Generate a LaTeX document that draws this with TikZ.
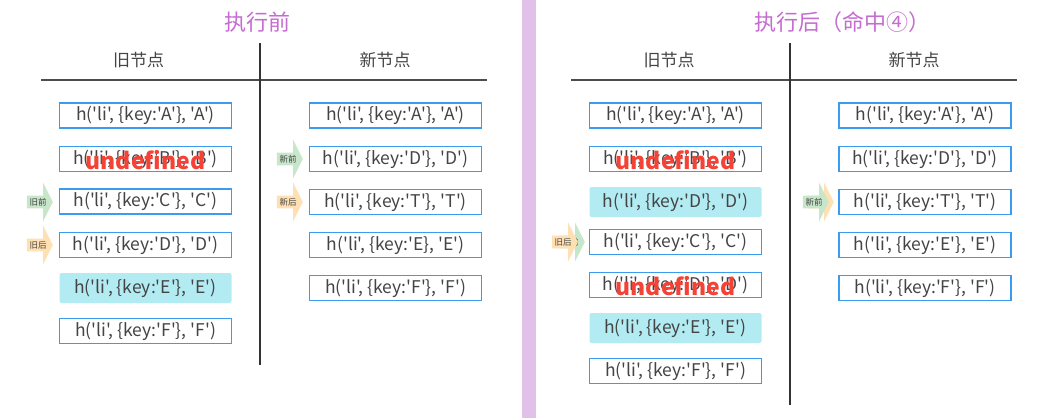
\documentclass[tikz,border=0pt]{standalone}
\usepackage{fontspec}
\newfontfamily\cjk{Noto Sans CJK SC}
\usetikzlibrary{shapes.arrows}

\definecolor{boxblue}{HTML}{3A9BEF}
\definecolor{hitcyan}{HTML}{B2EBF2}
\definecolor{titlepurple}{HTML}{C46CD0}
\definecolor{barpurple}{HTML}{E1C0E9}
\definecolor{undefred}{HTML}{F44336}
\definecolor{ptrgreen}{HTML}{C8E6C9}
\definecolor{ptrorange}{HTML}{FFE0B2}
\definecolor{txtgray}{HTML}{444444}

\tikzset{
  vnode/.style={draw=boxblue, line width=1.4pt, minimum width=172pt, minimum height=25pt,
    inner sep=0pt, text=txtgray, font=\cjk\fontsize{17.5}{17.5}\selectfont},
  hitnode/.style={fill=hitcyan, rounded corners=2pt, minimum width=172pt, minimum height=30pt,
    inner sep=0pt, text=txtgray, font=\cjk\fontsize{17.5}{17.5}\selectfont},
  undef/.style={text=undefred, inner sep=0pt, font=\cjk\bfseries\fontsize{23}{23}\selectfont},
  head/.style={text=txtgray, font=\cjk\fontsize{17}{17}\selectfont},
  title/.style={text=titlepurple, font=\cjk\fontsize{22}{22}\selectfont},
  ptr/.style={single arrow, single arrow head extend=13pt, single arrow tip angle=127,
    minimum height=26pt, inner sep=2.2pt, anchor=tip, text=txtgray,
    font=\cjk\fontsize{8.5}{8.5}\selectfont},
}

\begin{document}
\begin{tikzpicture}[x=1pt,y=-1pt]
  \useasboundingbox (0,0) rectangle (1057,418);

  % separator bar
  \fill[barpurple] (522,0) rectangle (536,418);

  % ---------- before ----------
  \node[title] (titleL) at (257.5,22) {执行前};
  \node[head] (oldL) at (138.5,60) {旧节点};
  \node[head] (newL) at (385,60) {新节点};
  \draw[line width=1.6pt, black!70] (41,80) -- (487,80);
  \draw[line width=1.3pt, black!80] (260,43) -- (260,365);

  \node[vnode] (lo1) at (145.5,115.5) {h('li', \{key:'A'\}, 'A')};
  \node[vnode] (lo2) at (145.5,159) {h('li', \{key:'B'\}, 'B')};
  \node[undef] (lu2) at (145.5,160) {undefined};
  \node[vnode] (lo3) at (145.5,201.5) {h('li', \{key:'C'\}, 'C')};
  \node[vnode] (lo4) at (145.5,245) {h('li', \{key:'D'\}, 'D')};
  \node[hitnode] (lo5) at (145.5,288) {h('li', \{key:'E'\}, 'E')};
  \node[vnode] (lo6) at (145.5,331) {h('li', \{key:'F'\}, 'F')};

  \node[vnode] (ln1) at (395.5,115.5) {h('li', \{key:'A'\}, 'A')};
  \node[vnode] (ln2) at (395.5,159) {h('li', \{key:'D'\}, 'D')};
  \node[vnode] (ln3) at (395.5,202) {h('li', \{key:'T'\}, 'T')};
  \node[vnode] (ln4) at (395.5,245) {h('li', \{key:'E\}, 'E')};
  \node[vnode] (ln5) at (395.5,288) {h('li', \{key:'F'\}, 'F')};

  \node[ptr, fill=ptrgreen] (losL) at (53,202) {旧前};
  \node[ptr, fill=ptrorange] (loeL) at (53,245) {旧后};
  \node[ptr, fill=ptrgreen] (lnsL) at (303,159) {新前};
  \node[ptr, fill=ptrorange] (lneL) at (303,202) {新后};

  % ---------- after (hit 4) ----------
  \node[title] (titleR) at (842,22) {执行后（命中④）};
  \node[head] (oldR) at (669,60) {旧节点};
  \node[head] (newR) at (914,60) {新节点};
  \draw[line width=1.6pt, black!70] (571,80) -- (1017,80);
  \draw[line width=1.3pt, black!80] (790,43) -- (790,405);

  \node[vnode] (ro1) at (675.5,115.5) {h('li', \{key:'A'\}, 'A')};
  \node[vnode] (ro2) at (675.5,159) {h('li', \{key:'B'\}, 'B')};
  \node[undef] (ru2) at (675.5,160) {undefined};
  \node[hitnode] (ro3) at (675.5,202) {h('li', \{key:'D'\}, 'D')};
  \node[vnode] (ro4) at (675.5,242) {h('li', \{key:'C'\}, 'C')};
  \node[vnode] (ro5) at (675.5,285) {h('li', \{key:'D'\}, 'D')};
  \node[undef] (ru5) at (675.5,286) {undefined};
  \node[hitnode] (ro6) at (675.5,328) {h('li', \{key:'E'\}, 'E')};
  \node[vnode] (ro7) at (675.5,371) {h('li', \{key:'F'\}, 'F')};

  \node[vnode] (rn1) at (925,115.5) {h('li', \{key:'A'\}, 'A')};
  \node[vnode] (rn2) at (925,159) {h('li', \{key:'D'\}, 'D')};
  \node[vnode] (rn3) at (925,202) {h('li', \{key:'T'\}, 'T')};
  \node[vnode] (rn4) at (925,245) {h('li', \{key:'E'\}, 'E')};
  \node[vnode] (rn5) at (925,288) {h('li', \{key:'F'\}, 'F')};

  \node[ptr, fill=ptrgreen] (rosR) at (585,242) {旧前};
  \node[ptr, fill=ptrorange] (roeR) at (578,242) {旧后};
  \node[ptr, fill=ptrorange] (rneR) at (834,202) {新后};
  \node[ptr, fill=ptrgreen] (rnsR) at (829,202) {新前};
\end{tikzpicture}
\end{document}
